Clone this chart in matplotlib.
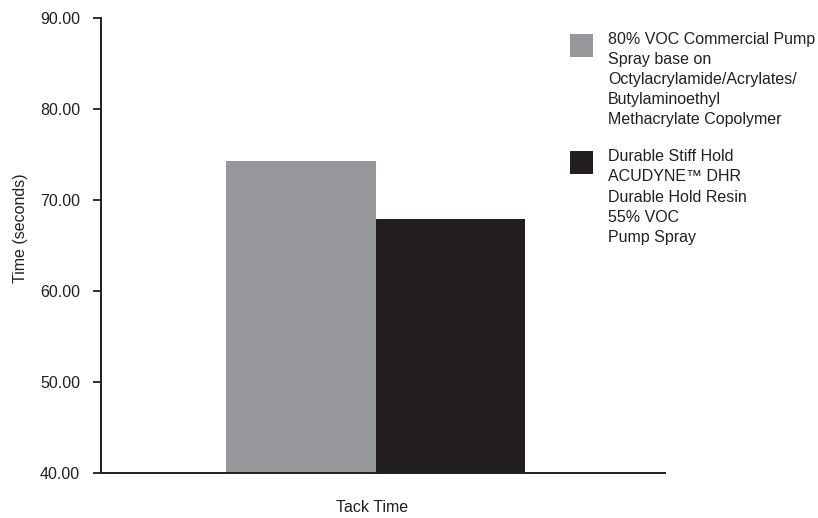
import matplotlib.pyplot as plt
from matplotlib.patches import Rectangle

plt.rcParams['font.family'] = ['Liberation Sans', 'DejaVu Sans']

category = "Tack Time"
series_labels = [
    "80% VOC Commercial Pump\nSpray base on\nOctylacrylamide/Acrylates/\nButylaminoethyl\nMethacrylate Copolymer",
    "Durable Stiff Hold\nACUDYNE\u2122 DHR\nDurable Hold Resin\n55% VOC\nPump Spray",
]
series_values = [74.3, 67.9]
series_colors = ["#96979a", "#231f20"]
yticks = [40, 50, 60, 70, 80, 90]

ink = "#231f20"

fig = plt.figure(figsize=(8.18, 5.18), dpi=100)
ax = fig.add_axes([0.1235, 0.087, 0.69, 0.878])

width = 0.5
offsets = [-width / 2, width / 2]
for off, val, col in zip(offsets, series_values, series_colors):
    ax.bar(off, val - 40, width=width, bottom=40, color=col, linewidth=0)

ax.set_xlim(-0.92, 0.97)
ax.set_ylim(40, 90)
ax.set_yticks(yticks)
ax.set_yticklabels([f"{v:.2f}" for v in yticks], fontsize=11.5, color=ink)
ax.set_xticks([])
ax.tick_params(axis='y', direction='out', length=6, width=1.3, color=ink, pad=9)

for side in ['top', 'right']:
    ax.spines[side].set_visible(False)
for side in ['left', 'bottom']:
    ax.spines[side].set_linewidth(1.4)
    ax.spines[side].set_color(ink)

ax.set_ylabel("Time (seconds)", fontsize=11.5, color=ink)
ax.yaxis.set_label_coords(-0.129, 0.538)
fig.text(0.455, 0.021, category, ha='center', va='center', fontsize=11.5, color=ink)

# legend drawn by hand: square at the top line of each multi-line label
legend_tops = [0.935, 0.7085]
for top, lab, col in zip(legend_tops, series_labels, series_colors):
    fig.patches.append(Rectangle((0.697, top - 0.0444), 0.028, 0.0444,
                                 transform=fig.transFigure, color=col, lw=0))
    fig.text(0.743, top + 0.003, lab, ha='left', va='top', fontsize=11.5,
             color=ink, linespacing=1.42)

fig.savefig("out.png", dpi=100)
